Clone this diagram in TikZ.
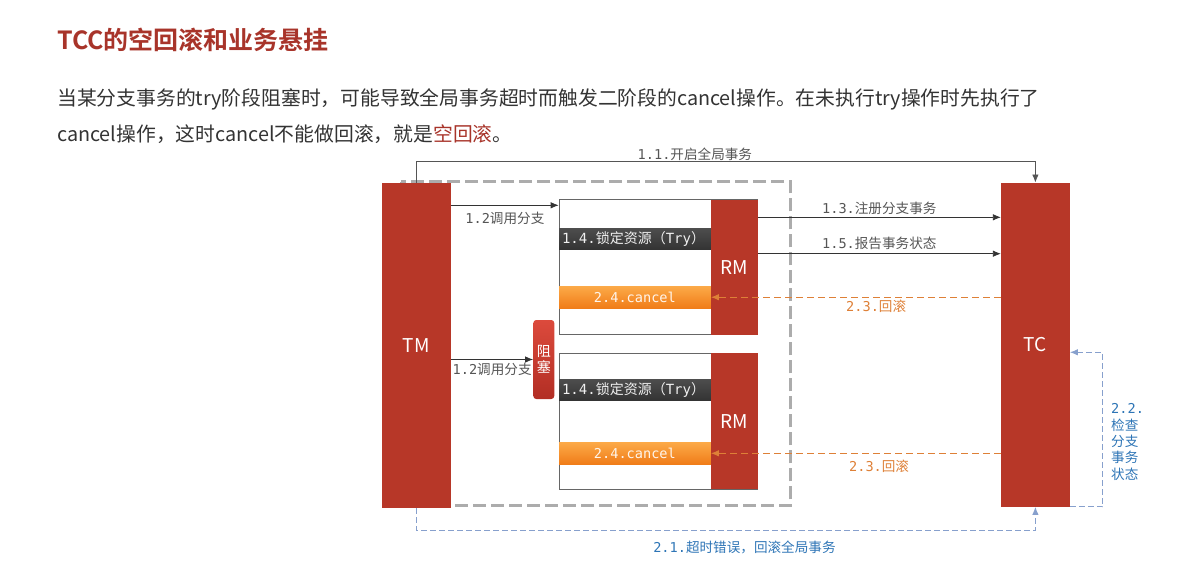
\documentclass[tikz,border=0pt]{standalone}
\usepackage{fontspec}
\setmainfont{Noto Sans CJK SC}[BoldFont={Noto Sans CJK SC Bold}]
\setmonofont{DejaVu Sans Mono}
\usetikzlibrary{arrows.meta, calc}

\definecolor{boxred}{RGB}{183,55,40}
\definecolor{titlered}{RGB}{168,52,42}
\definecolor{textgray}{RGB}{51,51,51}
\definecolor{linegray}{RGB}{85,85,85}
\definecolor{framegray}{RGB}{172,172,172}
\definecolor{rollorange}{RGB}{222,128,55}
\definecolor{checkblue}{RGB}{46,117,182}
\definecolor{dashblue}{RGB}{135,160,205}
\definecolor{orangetop}{RGB}{252,170,72}
\definecolor{orangebot}{RGB}{240,124,24}
\definecolor{blocktop}{RGB}{220,74,60}
\definecolor{blockbot}{RGB}{178,46,36}

\newcommand{\mono}[1]{{\ttfamily #1}}

\tikzset{
    lbl/.style={font=\fontsize{13.6}{16.4}\selectfont, text=linegray, inner sep=1pt},
    redbox/.style={fill=boxred, text=white, font=\fontsize{19}{19}\selectfont, inner sep=0pt},
    rmbox/.style={redbox, minimum width=46.6, minimum height=135},
    whitebox/.style={draw=black!60, fill=white, line width=0.8pt, minimum width=198.3, minimum height=135},
    trybar/.style={top color=black!70, bottom color=black!80, text=black!6, inner sep=3pt,
        text width=145.7, align=left, minimum height=20, font=\fontsize{14}{14}\selectfont},
    cancelbar/.style={top color=orangetop, bottom color=orangebot, text=orange!8, inner sep=0pt,
        minimum width=151.7, minimum height=22.3, font=\fontsize{13.6}{13.6}\selectfont},
    conn/.style={->, line width=0.8pt, draw=black!80},
    rollback/.style={->, line width=0.9pt, draw=rollorange, dash pattern=on 7pt off 4pt},
    check/.style={->, line width=0.9pt, draw=dashblue, dash pattern=on 6pt off 3pt}
}

\begin{document}
\begin{tikzpicture}[x=1pt, y=-1pt, >={Latex[length=8pt, width=6.5pt]}]
    % 0. Khung ảnh
    \useasboundingbox (0,0) rectangle (1178,565);

    % 1. Tiêu đề và đoạn văn
    \node[anchor=west, inner sep=0, text=titlered, font=\fontsize{25}{25}\selectfont\bfseries]
        (title) at (57,40) {TCC的空回滚和业务悬挂};
    \node[anchor=west, inner sep=0, text=textgray, font=\fontsize{19.8}{19.8}\selectfont]
        (lineA) at (57,99) {当某分支事务的try阶段阻塞时，可能导致全局事务超时而触发二阶段的cancel操作。在未执行try操作时先执行了};
    \node[anchor=west, inner sep=0, text=textgray, font=\fontsize{19.8}{19.8}\selectfont]
        (lineB) at (57,134.5) {cancel操作，这时cancel不能做回滚，就是\textcolor{titlered}{空回滚}。};

    % 2. Khung nét đứt màu xám
    \draw[framegray, line width=3pt, dash pattern=on 13pt off 5pt] (401,181.8) rectangle (790.7,505.7);

    % 3. TM và TC
    \node[redbox, minimum width=69.3, minimum height=325] (tm) at (416.3,345.3) {TM};
    \node[redbox, minimum width=68.7, minimum height=324] (tc) at (1035.4,344.7) {TC};

    % 4. Hai nhánh RM
    \node[whitebox] (boxA) at (658.2,267.2) {};
    \node[rmbox, anchor=east] (rmA) at (boxA.east) {RM};
    \node[trybar] (tryA) at (634.9,239.3) {\mono{1.4.}锁定资源（\mono{Try}）};
    \node[cancelbar] (cancelA) at (634.9,297.2) {\mono{2.4.cancel}};

    \node[whitebox, minimum height=135.7] (boxB) at (658.2,421.2) {};
    \node[rmbox, minimum height=135.7, anchor=east] (rmB) at (boxB.east) {RM};
    \node[trybar] (tryB) at (634.9,390.3) {\mono{1.4.}锁定资源（\mono{Try}）};
    \node[cancelbar] (cancelB) at (634.9,453.3) {\mono{2.4.cancel}};

    % Khối "阻塞"
    \node[top color=blocktop, bottom color=blockbot, rounded corners=3pt, text=white, inner sep=0pt,
        minimum width=21, minimum height=79, align=center, font=\fontsize{14}{16}\selectfont]
        (block) at (543.8,359.5) {阻\\塞};

    % 5. Các mũi tên giai đoạn 1
    \coordinate (upA) at ($(tm.north)+(0,-21)$);
    \draw[conn, draw=linegray] (tm.north) -- (upA) -| node[lbl, pos=0.225, above] {\mono{1.1.}开启全局事务} (tc.north);

    \coordinate (callA) at ($(boxA.north west)+(0,6)$);
    \draw[conn] (tm.east |- callA) -- node[lbl, below=5.5pt] {\mono{1.2}调用分支} (callA);
    \draw[conn] (tm.east |- block.west) -- node[lbl, below=2pt] {\mono{1.2}调用分支} (block.west);

    \coordinate (regA) at ([yshift=49.9pt]rmA.east);
    \coordinate (repA) at ([yshift=13.5pt]rmA.east);
    \draw[conn] (regA) -- node[lbl, above=1pt] {\mono{1.3.}注册分支事务} (regA -| tc.west);
    \draw[conn] (repA) -- node[lbl, above=2.5pt] {\mono{1.5.}报告事务状态} (repA -| tc.west);

    % 6. Các mũi tên giai đoạn 2
    \draw[rollback] (tc.west |- cancelA.east) -- node[lbl, text=rollorange, pos=0.43, below=1pt] {\mono{2.3.}回滚} (cancelA.east);
    \draw[rollback] (tc.west |- cancelB.east) -- node[lbl, text=rollorange, pos=0.42, below=5.5pt] {\mono{2.3.}回滚} (cancelB.east);

    \coordinate (downA) at ($(tm.south)+(0,22.2)$);
    \draw[check] (tm.south) -- (downA) -| node[lbl, text=checkblue, pos=0.265, below=9.5pt] {\mono{2.1.}超时错误，回滚全局事务} (tc.south);

    \coordinate (chkA) at ([yshift=-7.6pt]tc.east);
    \draw[check] (tc.south east) -- ++(32.6,0) |- (chkA);
    \node[lbl, text=checkblue, anchor=west, align=left] (chkLbl) at (1110,442) {\mono{2.2.}\\检查\\分支\\事务\\状态};
\end{tikzpicture}
\end{document}
